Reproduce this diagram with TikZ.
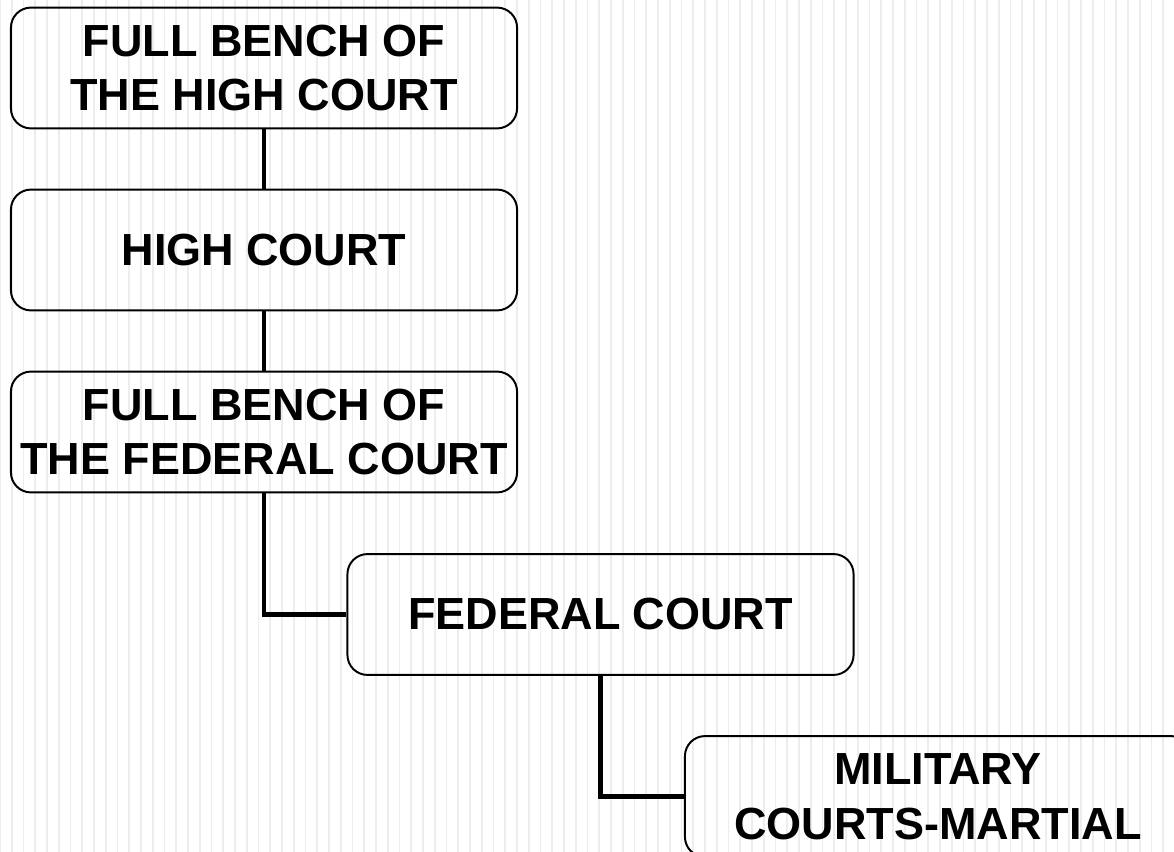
\documentclass[tikz,border=0pt]{standalone}
\usepackage{fontspec}
\setmainfont{Liberation Sans}
\usetikzlibrary{positioning}

\tikzset{
  court/.style={draw, line width=1.4pt, rounded corners=0.5cm, fill=none,
    minimum width=12.65cm, minimum height=3.02cm, align=center,
    inner sep=0pt, font=\fontsize{32}{39}\selectfont\bfseries},
  link/.style={line width=3.4pt},
  stripe/.style={line width=1.3pt, black!7}
}

\begin{document}
\begin{tikzpicture}[x=0.025cm, y=-0.025cm]
  \useasboundingbox (0,0) rectangle (1174,852);
  \fill[white] (0,0) rectangle (1174,852);
  % faint striped background
  \foreach \i in {0,...,100}
    \draw[stripe] ({\i*11.75},0) -- ({\i*11.75},852);

  \node[court] (fbhc) at (264,68) {FULL BENCH OF\\THE HIGH COURT};
  \node[court] (hc) at (264,250) {HIGH COURT};
  \node[court] (fbfc) at (264,432) {FULL BENCH OF\\THE FEDERAL COURT};
  \node[court] (fc) at (600.5,614.5) {FEDERAL COURT};
  \node[court] (mil) at (938,796.5) {MILITARY\\COURTS-MARTIAL};

  \draw[link] (fbhc) -- (hc);
  \draw[link] (hc) -- (fbfc);
  \draw[link] (fbfc.south) |- (fc.west);
  \draw[link] (fc.south) |- (mil.west);
\end{tikzpicture}
\end{document}
